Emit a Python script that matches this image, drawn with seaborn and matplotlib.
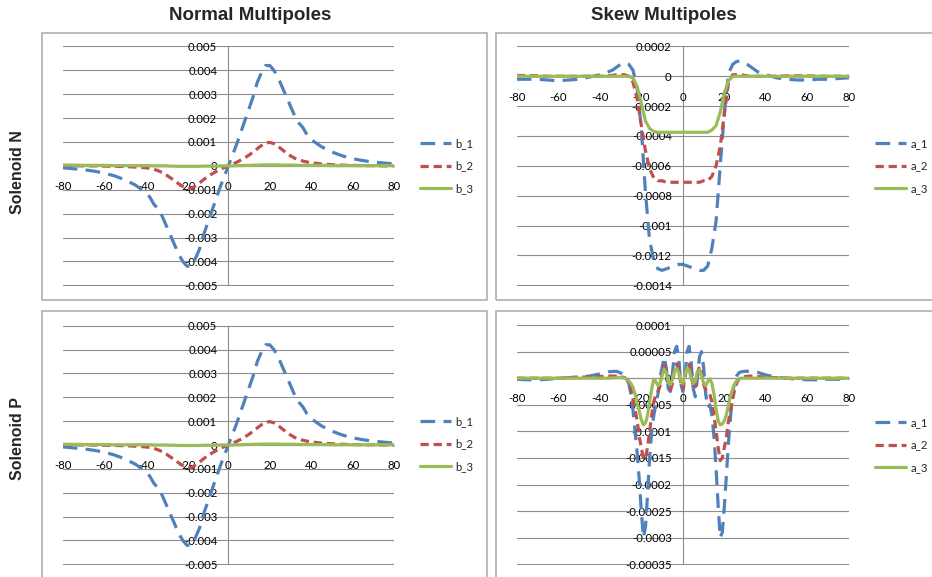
import numpy as np
import pandas as pd
import seaborn as sns
import matplotlib
matplotlib.use("Agg")
import matplotlib.pyplot as plt
from matplotlib.patches import Rectangle
from matplotlib.lines import Line2D
from matplotlib import font_manager

# ---------------------------------------------------------------- data
# axial positions (normal multipoles and solenoid N skew multipoles)
X_N = list(range(-80, -40, 5)) + list(range(-40, 41, 2)) + list(range(45, 81, 5))
# axial positions for solenoid P skew multipoles (finer sampling in the core)
X_P = (list(range(-80, -40, 5)) + [-40, -36, -32, -30] + list(range(-28, 29))
       + [30, 32, 36, 40] + list(range(45, 81, 5)))

NORMAL_NAMES = ["b_1", "b_2", "b_3"]
SKEW_NAMES = ["a_1", "a_2", "a_3"]

B1 = [-0.00008, -0.00012, -0.00016, -0.00022, -0.0003, -0.00042, -0.00058, -0.0008,
      -0.0011, -0.0013, -0.0016, -0.0018, -0.0021, -0.0025, -0.0029, -0.0033, -0.0037, -0.0040,
      -0.0042, -0.0042, -0.0039, -0.0035, -0.0029, -0.0024, -0.0019, -0.0014, -0.0009, -0.00045,
      0.0,
      0.00045, 0.0009, 0.0014, 0.0019, 0.0024, 0.0029, 0.0035, 0.0039, 0.0042, 0.0042,
      0.0040, 0.0037, 0.0033, 0.0029, 0.0025, 0.0021, 0.0018, 0.0016, 0.0013, 0.0011,
      0.0008, 0.00058, 0.00042, 0.0003, 0.00022, 0.00016, 0.00012, 0.00008]
B2 = [0.00002, 0.00001, 0.0, 0.0, -0.00001, -0.00002, -0.00003, -0.00005,
      -0.00008, -0.0001, -0.00014, -0.0002, -0.00028, -0.00038, -0.0005, -0.00062, -0.00075, -0.00086,
      -0.00093, -0.00094, -0.00085, -0.00072, -0.00058, -0.00045, -0.00034, -0.00024, -0.00015, -0.00007,
      0.0,
      0.00007, 0.00015, 0.00024, 0.00034, 0.00045, 0.00058, 0.00072, 0.00085, 0.00096, 0.00098,
      0.00093, 0.00082, 0.00068, 0.00054, 0.00042, 0.00032, 0.00025, 0.0002, 0.00016, 0.00013,
      0.00008, 0.00005, 0.00003, 0.00002, 0.00001, 0.00001, 0.0, 0.0]
B3 = [0.00003, 0.00003, 0.00002, 0.00002, 0.00002, 0.00001, 0.00001, 0.00001,
      0.00001, 0.00001, 0.0, 0.0, 0.0, 0.0, -0.00001, -0.00001, -0.00002, -0.00002,
      -0.00002, -0.00002, -0.00002, -0.00002, -0.00001, -0.00001, -0.00001, -0.00001, 0.0, 0.0,
      0.0,
      0.0, 0.00001, 0.00001, 0.00002, 0.00002, 0.00003, 0.00003, 0.00004, 0.00004, 0.00004,
      0.00004, 0.00004, 0.00003, 0.00003, 0.00003, 0.00003, 0.00002, 0.00002, 0.00002, 0.00002,
      0.00002, 0.00001, 0.00001, 0.00001, 0.00001, 0.00001, 0.00001, 0.00001]

A1_N = [-0.00002, -0.00002, -0.00002, -0.000025, -0.00003, -0.000025, -0.00002, -0.000005,
        0.00001, 0.00002, 0.00003, 0.00004, 0.00006, 0.00008, 0.00009, 0.00008, 0.00004, -0.00008,
        -0.00035, -0.00078, -0.0011, -0.00123, -0.00129, -0.0013, -0.00129, -0.00128, -0.00127, -0.00126,
        -0.00126,
        -0.00127, -0.00128, -0.00129, -0.0013, -0.0013, -0.00127, -0.00115, -0.00097, -0.0006, -0.00024,
        0.00002, 0.00008, 0.0001, 0.0001, 0.00009, 0.00007, 0.00005, 0.00003, 0.00002, 0.00001,
        -0.00001, -0.00002, -0.000025, -0.000025, -0.00002, -0.00002, -0.000015, -0.00001]
A2_N = [0.000005, 0.000005, 0.000003, 0.0, 0.0, 0.0, 0.0, 0.0,
        0.0, 0.0, 0.000003, 0.000006, 0.00001, 0.00001, 0.00001, 0.0, -0.00004, -0.00015,
        -0.00033, -0.0005, -0.00062, -0.00068, -0.0007, -0.0007, -0.00071, -0.00071, -0.00071, -0.00071,
        -0.00071,
        -0.00071, -0.00071, -0.00071, -0.00071, -0.0007, -0.0007, -0.00067, -0.0006, -0.00047, -0.00025,
        -0.00004, 0.00001, 0.00001, 0.00001, 0.000005, 0.0, 0.0, 0.0, 0.0, 0.0,
        0.0, 0.000003, 0.000003, 0.000003, 0.0, 0.0, 0.0, 0.0]
A3_N = [0.0, 0.0, 0.0, 0.0, 0.0, 0.0, 0.0, 0.0,
        0.0, 0.0, 0.0, 0.0, 0.0, 0.0, 0.0, 0.0, -0.00001, -0.00007,
        -0.00018, -0.0003, -0.00035, -0.00037, -0.000375, -0.000375, -0.000375, -0.000375, -0.000375, -0.000375,
        -0.000375,
        -0.000375, -0.000375, -0.000375, -0.000375, -0.000375, -0.000375, -0.00036, -0.00033, -0.00024, -0.00011,
        -0.00003, 0.0, 0.0, 0.0, 0.0, 0.0, 0.0, 0.0, 0.0, 0.0,
        0.0, 0.0, 0.0, 0.0, 0.0, 0.0, 0.0, 0.0]

A1_P = [-0.000002, -0.000003, -0.000003, -0.000002, 0.0, 0.000001, 0.000002, 0.000004,
        0.000008, 0.000012, 0.000013, 0.00001,
        0.000004, -0.000002, -0.00001, -0.00003, -0.00006, -0.0001, -0.00014, -0.00019, -0.00025, -0.0003,
        -0.00028, -0.00022, -0.00015, -0.0001, -0.00007, -0.00005, -0.00003, 0.0, 0.00002, 0.00004,
        0.00002, -0.00002, -0.000025, 0.00001, 0.00005, 0.00006, 0.00004, -0.00001,
        -0.000025,
        0.0, 0.00005, 0.00006, 0.00003, -0.00002, -0.000035, 0.0, 0.00004, 0.00005, 0.00002,
        -0.00003, -0.000055, -0.00005, -0.00007, -0.00011, -0.00017, -0.00024, -0.0003, -0.00029, -0.00024,
        -0.00018, -0.00012, -0.00007, -0.00003, -0.000005, 0.000005, 0.00001, 0.000012,
        0.000013, 0.000013, 0.000011, 0.000006,
        0.000002, 0.0, -0.000002, -0.000003, -0.000003, -0.000002, -0.000002, -0.000001]
A2_P = [0.0, 0.0, 0.0, 0.0, 0.0, 0.000001, 0.000002, 0.000002,
        0.000003, 0.000004, 0.000004, 0.000003,
        0.000001, -0.000002, -0.00001, -0.00002, -0.00004, -0.00006, -0.00008, -0.00011, -0.00013, -0.000152,
        -0.00015, -0.00013, -0.0001, -0.00007, -0.000045, -0.00003, -0.000025, -0.000015, 0.00001, 0.000024,
        0.000015, -0.00001, -0.000022, -0.00001, 0.000018, 0.000027, 0.000015, -0.00001,
        -0.00002,
        0.0, 0.000024, 0.000026, 0.000008, -0.000018, -0.000016, 0.00001, 0.000022, 0.000012, -0.000012,
        -0.000022, -0.000025, -0.00003, -0.000045, -0.00007, -0.0001, -0.00013, -0.000155, -0.00015, -0.00013,
        -0.00011, -0.00008, -0.00006, -0.00004, -0.00002, -0.000008, -0.000002, 0.000001,
        0.000003, 0.000004, 0.000003, 0.000002,
        0.000001, 0.0, 0.0, 0.0, 0.0, 0.0, 0.0, 0.0]
A3_P = [0.0, 0.0, 0.0, 0.0, 0.0, 0.0, 0.0, 0.0,
        0.0, 0.0, 0.000001, 0.000001,
        0.0, -0.000002, -0.000005, -0.00001, -0.000017, -0.00003, -0.000045, -0.000062, -0.000078, -0.000088,
        -0.000084, -0.00007, -0.000045, -0.00002, -0.000002, -0.000006, -0.000014, -0.00001, 0.000005, 0.000017,
        0.00001, -0.000008, -0.000012, -0.000002, 0.000014, 0.000018, 0.00001, -0.000006,
        -0.00001,
        0.000006, 0.000019, 0.000016, 0.0, -0.00001, -0.000006, 0.000012, 0.000016, 0.000006, -0.00001,
        -0.000014, -0.000006, -0.000001, -0.00001, -0.00003, -0.000058, -0.00008, -0.000088, -0.000086, -0.00008,
        -0.000068, -0.00005, -0.000032, -0.00002, -0.00001, -0.000004, -0.000001, 0.0,
        0.0, 0.0, 0.0, 0.0,
        0.0, 0.0, 0.0, 0.0, 0.0, 0.0, 0.0, 0.0]

for s in (B1, B2, B3, A1_N, A2_N, A3_N):
    assert len(s) == len(X_N)
for s in (A1_P, A2_P, A3_P):
    assert len(s) == len(X_P)

X_TICKS = [-80, -60, -40, -20, 0, 20, 40, 60, 80]
X_TICK_LABELS = ["-80", "-60", "-40", "-20", "0", "20", "40", "60", "80"]

NORMAL_YTICKS = [0.005, 0.004, 0.003, 0.002, 0.001, 0, -0.001, -0.002, -0.003, -0.004, -0.005]
NORMAL_YLABELS = ["0.005", "0.004", "0.003", "0.002", "0.001", "0", "-0.001", "-0.002",
                  "-0.003", "-0.004", "-0.005"]
SKEW_N_YTICKS = [0.0002, 0, -0.0002, -0.0004, -0.0006, -0.0008, -0.001, -0.0012, -0.0014]
SKEW_N_YLABELS = ["0.0002", "0", "-0.0002", "-0.0004", "-0.0006", "-0.0008", "-0.001",
                  "-0.0012", "-0.0014"]
SKEW_P_YTICKS = [0.0001, 0.00005, 0, -0.00005, -0.0001, -0.00015, -0.0002, -0.00025,
                 -0.0003, -0.00035]
SKEW_P_YLABELS = ["0.0001", "0.00005", "0", "-0.00005", "-0.0001", "-0.00015", "-0.0002",
                  "-0.00025", "-0.0003", "-0.00035"]

COLUMN_TITLES = ["Normal Multipoles", "Skew Multipoles"]
ROW_TITLES = ["Solenoid N", "Solenoid P"]

# ---------------------------------------------------------------- style
sns.set_theme(style="white")
installed = {f.name for f in font_manager.fontManager.ttflist}
TICK_FONT = "Lato" if "Lato" in installed else "DejaVu Sans"
plt.rcParams["font.family"] = [TICK_FONT, "DejaVu Sans"]

COLORS = ["#4F81BD", "#C0504D", "#9BBB59"]
DASHES = [(4.6, 2.6), (2.6, 1.5), ""]
LW = 2.3
GRID = "#8e8e8e"
BOX = "#a8a8a8"
TICK_SIZE = 8.2

W, H = 932, 577
fig = plt.figure(figsize=(W / 100, H / 100), dpi=100)


def fx(px):
    return px / W


def fy(py):
    return 1 - py / H


# chart-area boxes
for (x0, y0, x1, y1) in [(42, 33, 487, 300), (496, 33, 940, 300),
                         (42, 311, 487, 585), (496, 311, 940, 585)]:
    fig.patches.append(Rectangle((fx(x0), fy(y1)), fx(x1 - x0), (y1 - y0) / H,
                                 transform=fig.transFigure, fill=False,
                                 edgecolor=BOX, linewidth=1.1, zorder=0))


def draw_panel(rect, x, names, values, ylim, yticks, ylabels, legend_xy):
    left, top, right, bottom = rect
    ax = fig.add_axes([fx(left), fy(bottom), fx(right - left), (bottom - top) / H])
    df = pd.DataFrame({
        "z": np.tile(x, len(names)),
        "value": np.concatenate([np.asarray(v, dtype=float) for v in values]),
        "series": np.repeat(names, len(x)),
    })
    sns.lineplot(data=df, x="z", y="value", hue="series", style="series",
                 palette=dict(zip(names, COLORS)), dashes=dict(zip(names, DASHES)),
                 estimator=None, sort=False, linewidth=LW, legend=False, ax=ax)
    lo, hi = ylim
    eps = (hi - lo) * 0.003
    ax.set_xlim(-80, 80)
    ax.set_ylim(lo - eps, hi + eps)
    ax.set_xlabel("")
    ax.set_ylabel("")
    ax.set_xticks(X_TICKS)
    ax.set_xticklabels(X_TICK_LABELS)
    ax.set_yticks(yticks)
    ax.set_yticklabels(ylabels)
    for side in ("top", "right"):
        ax.spines[side].set_visible(False)
    ax.spines["left"].set_position(("data", 0))
    ax.spines["bottom"].set_position(("data", 0))
    ax.spines["left"].set_bounds(lo, hi)
    for side in ("left", "bottom"):
        ax.spines[side].set_color(GRID)
        ax.spines[side].set_linewidth(0.8)
        ax.spines[side].set_zorder(0.5)
    ax.yaxis.grid(True, color=GRID, linewidth=0.8)
    ax.xaxis.grid(False)
    ax.set_axisbelow(True)
    ax.tick_params(axis="both", length=0, labelsize=TICK_SIZE, colors="black")
    ax.tick_params(axis="y", pad=8.0)
    ax.tick_params(axis="x", pad=11.0)
    ax.patch.set_alpha(0)

    handles = []
    for c, d in zip(COLORS, DASHES):
        if d == "":
            handles.append(Line2D([], [], color=c, lw=LW, linestyle="-"))
        else:
            handles.append(Line2D([], [], color=c, lw=LW, dashes=d))
    ax.legend(handles, names, loc="center left",
              bbox_to_anchor=(fx(legend_xy[0]), fy(legend_xy[1])),
              bbox_transform=fig.transFigure, frameon=False, fontsize=TICK_SIZE,
              handlelength=2.7, handletextpad=0.4, labelspacing=1.0, borderpad=0,
              borderaxespad=0)
    return ax


draw_panel((62.7, 45.7, 394, 286), X_N, NORMAL_NAMES, [B1, B2, B3],
           (-0.005, 0.005), NORMAL_YTICKS, NORMAL_YLABELS, (420, 166))
draw_panel((516.7, 45.7, 849, 286), X_N, SKEW_NAMES, [A1_N, A2_N, A3_N],
           (-0.0014, 0.0002), SKEW_N_YTICKS, SKEW_N_YLABELS, (875, 166))
draw_panel((62.7, 325, 394, 565), X_N, NORMAL_NAMES, [B1, B2, B3],
           (-0.005, 0.005), NORMAL_YTICKS, NORMAL_YLABELS, (420, 444))
draw_panel((516.7, 324.3, 849, 565), X_P, SKEW_NAMES, [A1_P, A2_P, A3_P],
           (-0.00035, 0.0001), SKEW_P_YTICKS, SKEW_P_YLABELS, (875, 445))

# column and row headings
head_font = ["Liberation Sans", "DejaVu Sans"]
fig.text(fx(250), fy(15), COLUMN_TITLES[0], ha="center", va="center",
         fontsize=13.5, fontweight="bold", family=head_font)
fig.text(fx(664), fy(15), COLUMN_TITLES[1], ha="center", va="center",
         fontsize=13.5, fontweight="bold", family=head_font)
fig.text(fx(18), fy(172), ROW_TITLES[0], ha="center", va="center", rotation=90,
         fontsize=11.5, fontweight="bold", family=head_font)
fig.text(fx(18), fy(439), ROW_TITLES[1], ha="center", va="center", rotation=90,
         fontsize=11.5, fontweight="bold", family=head_font)

fig.savefig("out.png", dpi=100, facecolor="white")
